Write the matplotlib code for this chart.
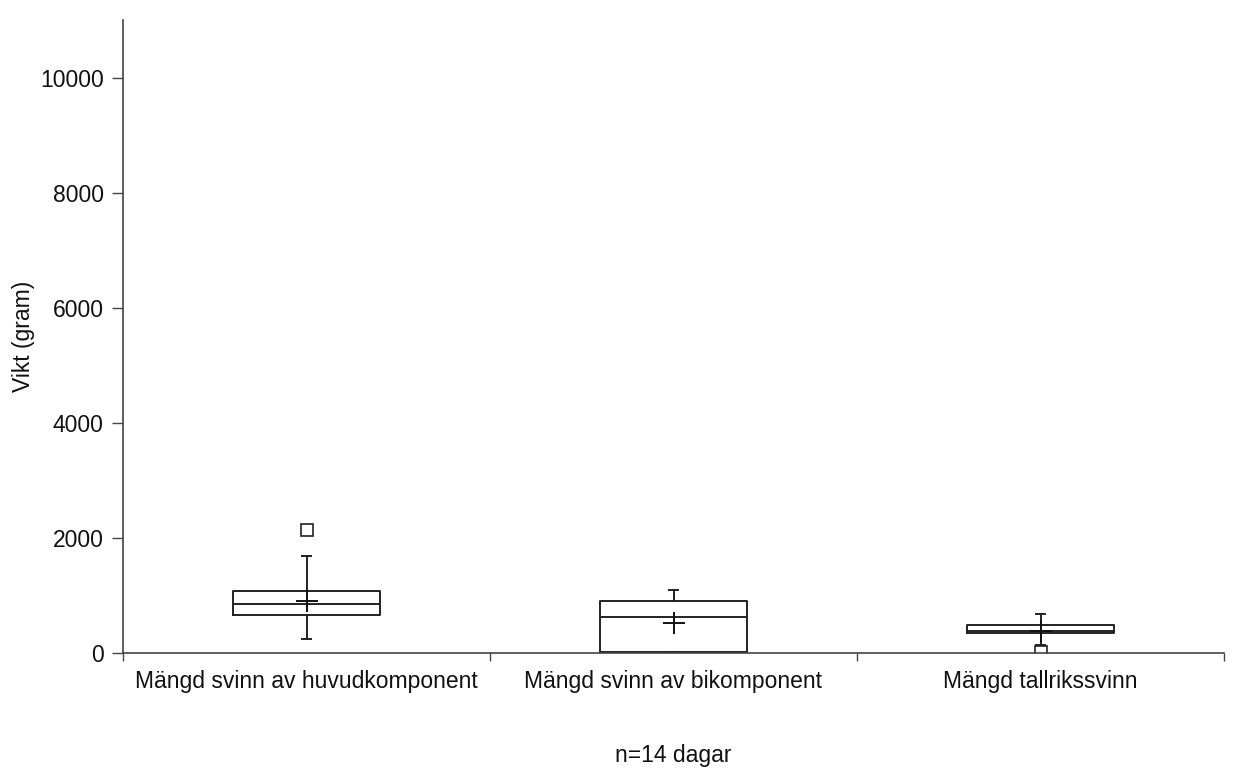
import matplotlib
matplotlib.use("Agg")
from matplotlib import pyplot as plt

plt.rcParams['font.family'] = ['Liberation Sans', 'DejaVu Sans']

# box statistics (gram)
categories = ["Mängd svinn av huvudkomponent", "Mängd svinn av bikomponent", "Mängd tallrikssvinn"]
q1 = [660, 15, 350]
median = [856, 620, 390]
q3 = [1082, 897, 492]
whisker_low = [249, 15, 139]
whisker_high = [1684, 1094, 683]
means = [900, 527, 390]
outliers = [[2130], [], [17]]

stats = []
for i, name in enumerate(categories):
    stats.append({
        'label': name,
        'q1': q1[i], 'med': median[i], 'q3': q3[i],
        'whislo': whisker_low[i], 'whishi': whisker_high[i],
        'mean': means[i], 'fliers': outliers[i],
    })

fig = plt.figure(figsize=(12.34, 7.83), dpi=100)
ax = fig.add_axes([123 / 1234, 1 - 653 / 783, (1224 - 123) / 1234, (653 - 20) / 783])

line = dict(color='#222222', linewidth=1.4)
positions = [0.5, 1.5, 2.5]
ax.bxp(stats, positions=positions, widths=0.4, capwidths=0.025,
       showmeans=True, showfliers=True, patch_artist=False,
       boxprops=line, medianprops=line, whiskerprops=line, capprops=line,
       meanprops=dict(marker='+', markersize=16, markeredgecolor='#111111', markeredgewidth=1.4),
       flierprops=dict(marker='s', markersize=8, markerfacecolor='white',
                       markeredgecolor='#222222', markeredgewidth=1.2))

fs = 16.5
ax.set_xlim(0, 3)
ax.set_ylim(0, 11000)
ax.set_yticks([0, 2000, 4000, 6000, 8000, 10000])
ax.set_xticks([0, 1, 2, 3])
ax.set_xticklabels([])
ax.set_xticks(positions, minor=True)
ax.set_xticklabels(categories, minor=True)
ax.tick_params(axis='x', which='minor', length=0, pad=12, labelsize=fs, labelcolor='#111111')
ax.tick_params(axis='x', which='major', length=6, width=1, color='#444444')
ax.tick_params(axis='y', length=8, width=1, color='#444444', labelsize=fs, pad=6, labelcolor='#111111')

for side in ['top', 'right']:
    ax.spines[side].set_visible(False)
for side in ['left', 'bottom']:
    ax.spines[side].set_color('#444444')
    ax.spines[side].set_linewidth(1.2)

ax.set_ylabel("Vikt (gram)", fontsize=fs, color='#111111')
ax.yaxis.set_label_coords(-0.080, 0.50)
ax.set_xlabel("n=14 dagar", fontsize=fs, labelpad=37, color='#111111')

fig.savefig("out.png", dpi=100, facecolor='white')
